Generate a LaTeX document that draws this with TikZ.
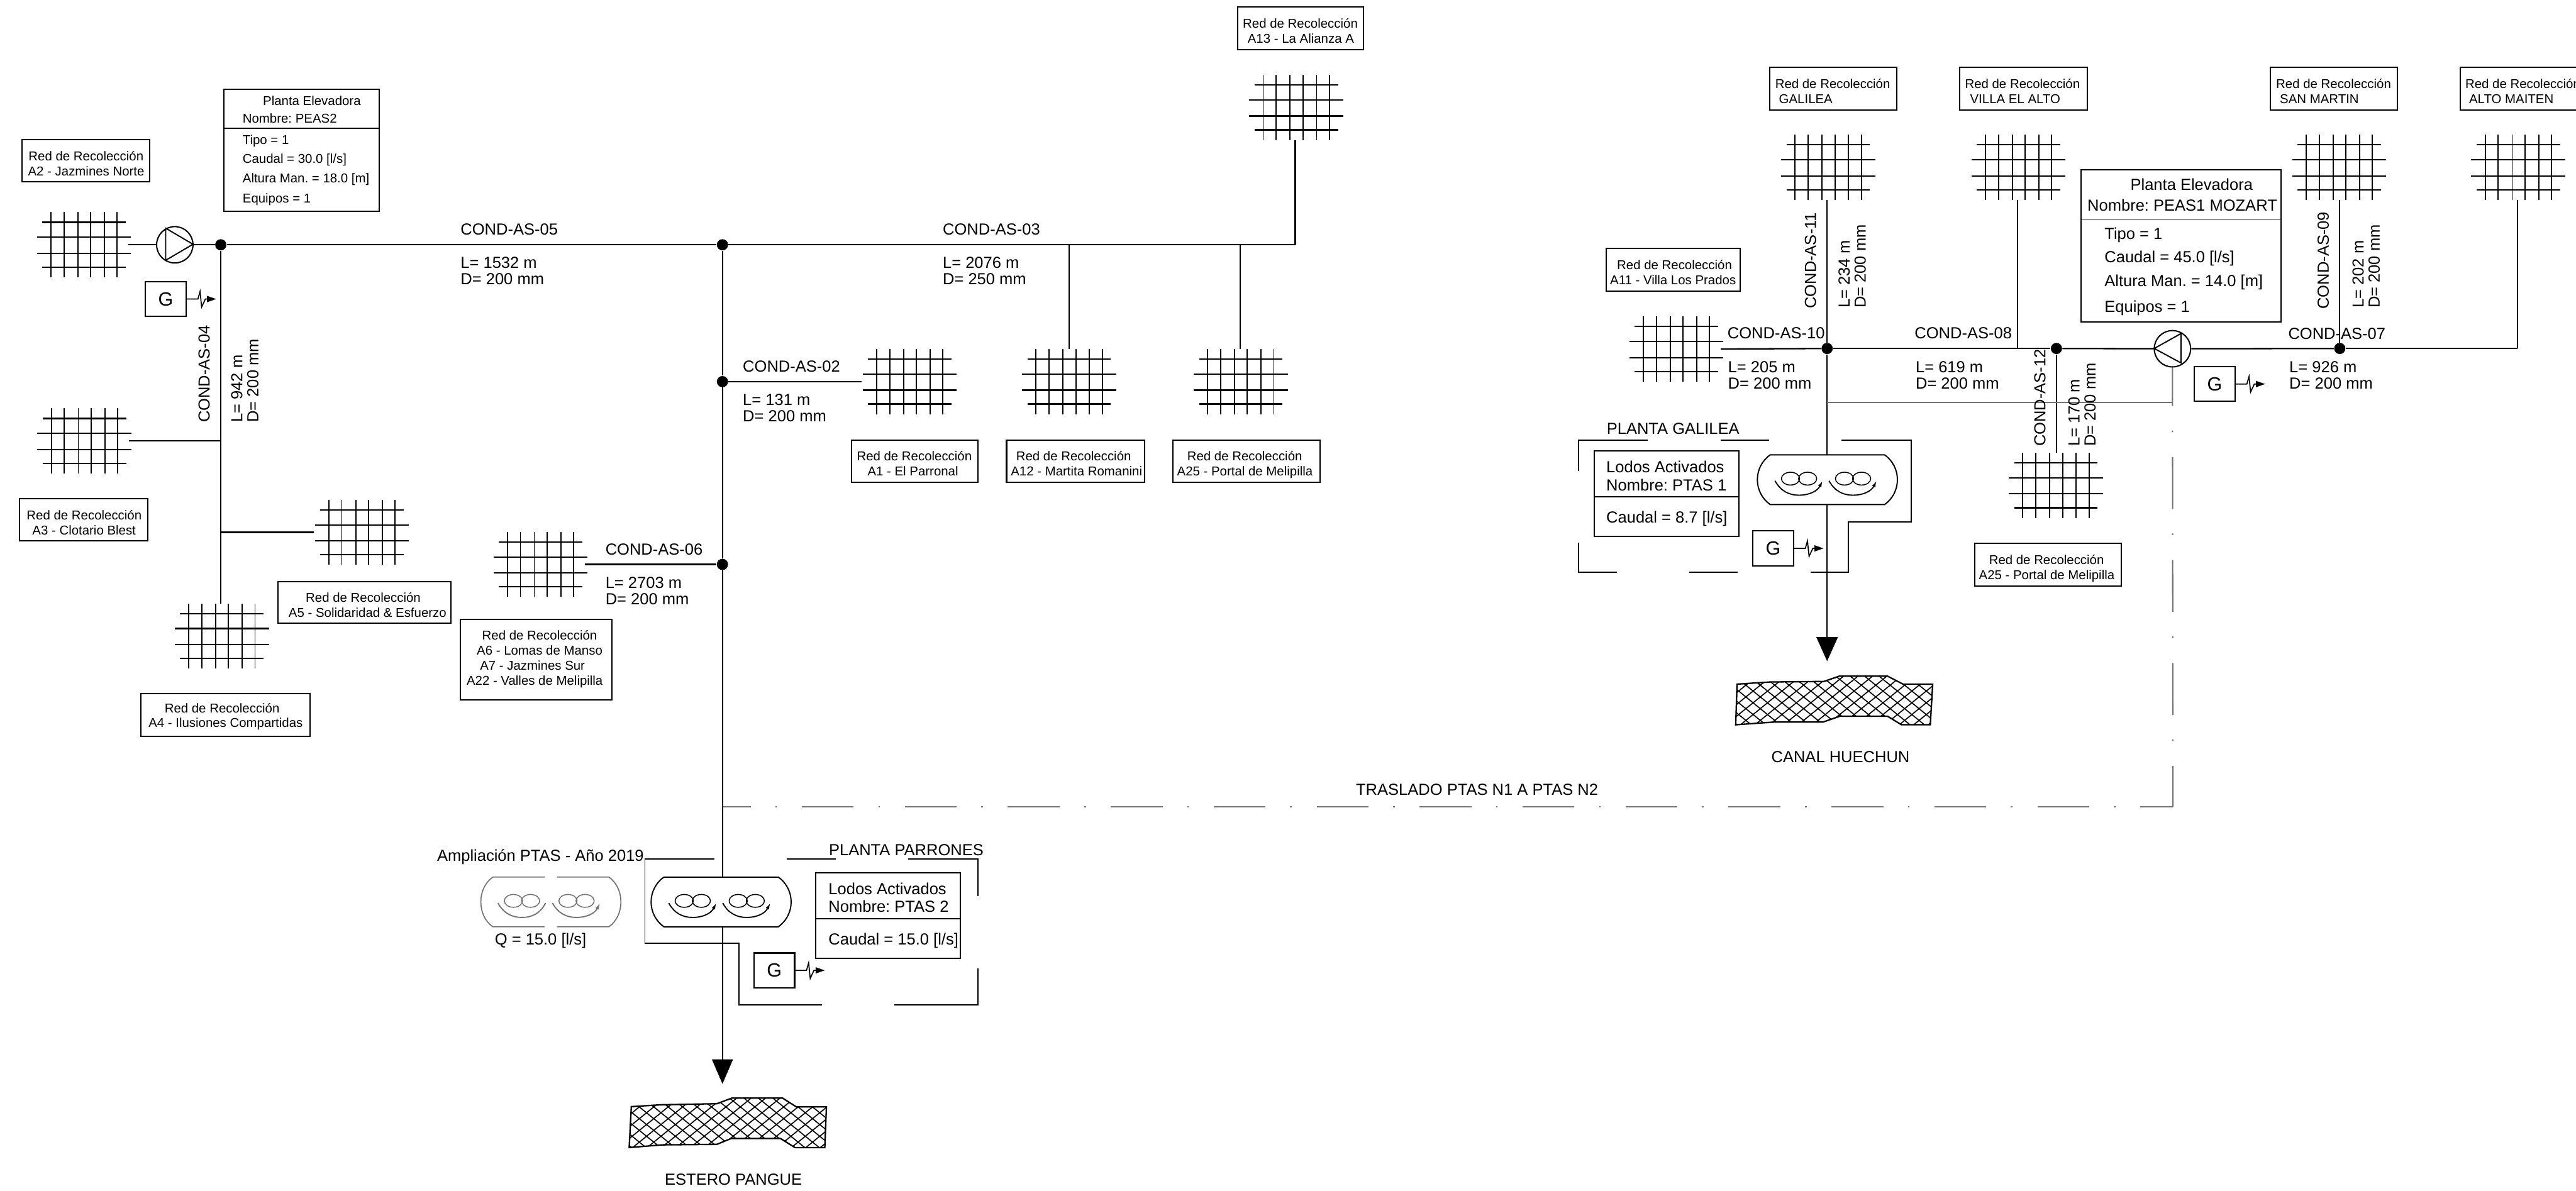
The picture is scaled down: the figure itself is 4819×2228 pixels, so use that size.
\documentclass[tikz,border=0pt]{standalone}
\usepackage{fontspec}
\setmainfont{Liberation Sans}
\usetikzlibrary{arrows.meta}
\frenchspacing
\newdimen\pxu \pxu=0.01cm
\newcommand\smallf{\fontsize{6.83pt}{7.97pt}\selectfont}
\newcommand\bigf{\fontsize{8.54pt}{8.54pt}\selectfont}
\tikzset{
  wire/.style={line width=0.027cm,draw=black},
  vwire/.style={line width=0.025cm,draw=black},
  thinbox/.style={line width=0.023cm,draw=black},
  graywire/.style={line width=0.024cm,draw=black!55},
  hatch/.style={line width=0.02cm,draw=black},
  tbox/.style={draw=black,line width=0.024cm,inner sep=0pt,outer sep=0pt,rectangle},
  dotnode/.style={circle,fill=black,draw=none,minimum size=0.21cm,inner sep=0pt},
  pumpnode/.style={circle,draw=black,line width=0.024cm,minimum size=0.68cm,inner sep=0pt},
  gbox/.style={rectangle,draw=black,line width=0.024cm,minimum width=0.76cm,minimum height=0.65cm,inner sep=0pt,font=\fontsize{10.2pt}{10.2pt}\selectfont},
  lab/.style={anchor=base west,inner sep=0pt,font=\bigf},
  ld/.style={anchor=west,inner sep=0pt,align=left,font=\bigf},
  vlab/.style={rotate=90,anchor=west,inner sep=0pt,align=left,font=\bigf},
  tipst/.style={-{Latex[length=0.12cm,width=0.07cm]}},
  redgrid/.pic={
    \foreach \a in {-62,-37.5,-11.5,12.5,38,62}{\draw[line width=0.022cm] (\a,-61) -- (\a,61);}
    \foreach \a in {-42,42}{\draw[line width=0.026cm] (-78,\a) -- (78,\a);}
    \foreach \a in {-14,16}{\draw[line width=0.026cm] (-88,\a) -- (88,\a);}
    \coordinate (-n) at (0,-61);
    \coordinate (-s) at (0,61);
    \coordinate (-e) at (83,0);
    \coordinate (-w) at (-90,0);
  },
  sigpic/.pic={
    \draw[line width=0.02cm] (0,0) -- (21,0) -- (25,-14) -- (28,15) -- (35,0) -- (38,0);
    \fill[black] (38,-6) -- (55,0) -- (38,6) -- cycle;
  },
  reactorbody/.pic={
    \draw[thinbox] (-107,-46.5) -- (107,-46.5) .. controls (122,-36) and (131,-18.5) .. (131,0)
      .. controls (131,18.5) and (122,36) .. (107,46.5) -- (-107,46.5)
      .. controls (-122,36) and (-131,18.5) .. (-131,0) .. controls (-131,-18.5) and (-122,-36) .. (-107,-46.5) -- cycle;
    \aero{-53}{-2}{tipst,}\aero{48}{-2}{tipst,}
    \coordinate (-n) at (0,-46.5);
    \coordinate (-s) at (0,46.5);
  },
  reactorlight/.pic={
    \draw[graywire,line width=0.02cm] (-11.5,-46.5) -- (-108.5,-46.5) .. controls (-123.5,-36) and (-131,-18.5) .. (-131,0)
      .. controls (-131,18.5) and (-123.5,36) .. (-108.5,46.5) -- (-11.5,46.5);
    \draw[graywire,line width=0.02cm] (11.5,-46.5) -- (108.5,-46.5) .. controls (123.5,-36) and (131,-18.5) .. (131,0)
      .. controls (131,18.5) and (123.5,36) .. (108.5,46.5) -- (11.5,46.5);
    \begin{scope}[black!55]
    \aero{-54}{-2}{}\aero{48}{-2}{tipst,}
    \end{scope}
  },
}
\newcommand\aero[3]{%
  \draw[line width=0.018cm] ({#1-16},#2) ellipse [x radius=17,y radius=12];
  \draw[line width=0.018cm] ({#1+16},#2) ellipse [x radius=17,y radius=12];
  \draw[#3 line width=0.022cm] ({#1-45},{#2+4}) .. controls ({#1-34},{#2+24}) and ({#1-18},{#2+31}) .. ({#1},{#2+31}) .. controls ({#1+18},{#2+31}) and ({#1+34},{#2+24}) .. ({#1+44},{#2+4});
}
% optional: font; name; x1 y1 x2 y2; first baseline offset; lines
\newcommand\rbox[8][\smallf]{%
  \pgfmathsetlengthmacro\bxw{(#5-#3)*\pxu}%
  \pgfmathsetlengthmacro\bxh{(#6-#4)*\pxu}%
  \node[tbox] (#2) at ({(#3+#5)/2},{(#4+#6)/2}) {\begin{minipage}[c][\bxh][t]{\bxw}#1\rule{0pt}{#7\pxu}#8\end{minipage}};%
}
\newcommand\hs[1]{\hspace*{#1\pxu}}
\newcommand\river[3]{%
  \begin{scope}
    \clip #3 -- cycle;
    \foreach \k in {0,...,26}{
      \draw[hatch] ({#1+\k*27},#2) -- ++(150,122);
      \draw[hatch] ({#1+\k*27},#2) -- ++(-150,122);
    }
  \end{scope}
  \draw[wire] #3 -- cycle;
}
\begin{document}
\begin{tikzpicture}[x=0.01cm,y=-0.01cm]
\useasboundingbox (0,0) rectangle (4819,2228);
\fill[white] (0,0) rectangle (4819,2228);
\clip (0,0) rectangle (4819,2228);

% collection grids
\pic (a2) at (157,458) {redgrid};
\pic (a3) at (158,825) {redgrid};
\pic (a5) at (677,996) {redgrid};
\pic (a4) at (415,1190) {redgrid};
\pic (a6) at (1011,1056) {redgrid};
\pic (a1) at (1702,714) {redgrid};
\pic (a12) at (2000,714) {redgrid};
\pic (a25) at (2321,714) {redgrid};
\pic (a13) at (2425,201) {redgrid};
\pic (a11) at (3136,653) {redgrid};
\pic (gal) at (3420,313) {redgrid};
\pic (vil) at (3776,313) {redgrid};
\pic (san) at (4376,313) {redgrid};
\pic (alt) at (4711,313) {redgrid};
\pic (a25b) at (3846,908) {redgrid};

% text boxes
\rbox{ba2}{41}{261}{280}{340}{39.5}{\hs{12.5}Red de Recolección\\\hs{11.5}A2 - Jazmines Norte}
\rbox{ba3}{37}{933}{277}{1012}{39.5}{\hs{13}Red de Recolección\\\hs{23.5}A3 - Clotario Blest}
\rbox{ba5}{520}{1088}{844}{1166}{38.5}{\hs{52}Red de Recolección\\\hs{20}A5 - Solidaridad \& Esfuerzo}
\rbox{ba4}{263}{1298}{580}{1378}{35}{\hs{45}Red de Recolección\\\hs{15}A4 - Ilusiones Compartidas}
\rbox{ba6}{861}{1159}{1145}{1310}{38.5}{\hs{41}Red de Recolección\\\hs{31}A6 - Lomas de Manso\\\hs{37}A7 - Jazmines Sur\\\hs{12}A22 - Valles de Melipilla}
\rbox{ba1}{1593}{823}{1830}{902}{38.5}{\hs{10}Red de Recolección\\\hs{30}A1 - El Parronal}
\rbox{ba12}{1883}{823}{2141}{902}{38.5}{\hs{18}Red de Recolección\\\hs{8}A12 - Martita Romanini}
\rbox{ba25}{2194}{823}{2469}{902}{38.5}{\hs{27}Red de Recolección\\\hs{8}A25 - Portal de Melipilla}
\rbox{ba13}{2315}{13}{2551}{93}{39.5}{\hs{10}Red de Recolección\\\hs{19}A13 - La Alianza A}
\rbox{ba11}{3005}{465}{3255}{545}{39.5}{\hs{20}Red de Recolección\\\hs{7}A11 - Villa Los Prados}
\rbox{bgal}{3310.5}{126}{3548}{206}{39.5}{\hs{10.5}Red de Recolección\\\hs{17.5}GALILEA}
\rbox{bvil}{3666}{126}{3904.5}{206}{39.5}{\hs{10}Red de Recolección\\\hs{19.5}VILLA EL ALTO}
\rbox{bsan}{4247}{126}{4485}{206}{39.5}{\hs{11}Red de Recolección\\\hs{18}SAN MARTIN}
\rbox{balt}{4602}{126}{4840}{206}{39.5}{\hs{10}Red de Recolección\\\hs{17}ALTO MAITEN}
\rbox{ba25b}{3694}{1017}{3968}{1097}{39.5}{\hs{27}Red de Recolección\\\hs{8}A25 - Portal de Melipilla}

% lift station and plant data boxes
\rbox{peas2}{419}{167}{709}{395}{29.5}{\hs{73}Planta Elevadora\\[5\pxu]\hs{35}Nombre: PEAS2\\[12\pxu]\hs{35}Tipo = 1\\[8\pxu]\hs{35}Caudal = 30.0 [l/s]\\[8\pxu]\hs{35}Altura Man. = 18.0 [m]\\[10\pxu]\hs{35}Equipos = 1}
\draw[thinbox] (peas2.west |- 0,240) -- (peas2.east |- 0,240);
\rbox[\bigf]{peas1}{3893}{318}{4267}{602}{37.7}{\hs{92.5}Planta Elevadora\\[9\pxu]\hs{12}Nombre: PEAS1 MOZART\\[23\pxu]\hs{44}Tipo = 1\\[13\pxu]\hs{44}Caudal = 45.0 [l/s]\\[15\pxu]\hs{44}Altura Man. = 14.0 [m]\\[18\pxu]\hs{44}Equipos = 1}
\draw[thinbox] (peas1.west |- 0,410) -- (peas1.east |- 0,410);
\rbox[\bigf]{ptas2}{1526}{1633}{1797}{1792.5}{40.7}{\hs{24}Lodos Activados\\[3\pxu]\hs{24}Nombre: PTAS 2\\[31.5\pxu]\hs{24}Caudal = 15.0 [l/s]}
\draw[thinbox] (ptas2.west |- 0,1719) -- (ptas2.east |- 0,1719);
\rbox[\bigf]{ptas1}{2982}{843.5}{3253}{1003}{40.2}{\hs{23}Lodos Activados\\[4\pxu]\hs{23}Nombre: PTAS 1\\[30\pxu]\hs{23}Caudal = 8.7 [l/s]}
\draw[thinbox] (ptas1.west |- 0,929) -- (ptas1.east |- 0,929);

% junctions and pumps
\node[dotnode] (d1) at (413,458) {};
\node[dotnode] (d2) at (1351.5,458) {};
\node[dotnode] (d3) at (1351.5,714) {};
\node[dotnode] (d4) at (1351.5,1056) {};
\node[dotnode] (d5) at (3418,652) {};
\node[dotnode] (d6) at (3847,652) {};
\node[dotnode] (d7) at (4377,652) {};
\node[pumpnode] (p2) at (327,458) {};
\draw[thinbox] (310,427) -- (361,457) -- (310,487) -- cycle;
\node[pumpnode] (p1) at (4064,652.5) {};
\draw[thinbox] (4080,624) -- (4030,652) -- (4080,679) -- cycle;

% generators
\node[gbox] (g1) at (310,559.5) {G\hspace{0.1cm}};
\pic at (g1.east) {sigpic};
\node[gbox] (g2) at (1448.5,1815.5) {G\hspace{0.1cm}};
\pic at (g2.east) {sigpic};
\node[gbox] (g3) at (3317,1026) {G\hspace{0.1cm}};
\pic at (g3.east) {sigpic};
\node[gbox] (g4) at (4143,718.5) {G\hspace{0.1cm}};
\pic at (g4.east) {sigpic};

% treatment plants
\pic (r2) at (1349,1687.5) {reactorbody};
\pic (rl) at (1030.5,1687.5) {reactorlight};
\pic (r1) at (3418.5,897.5) {reactorbody};

% plant outlines
\draw[thinbox] (1336,1607.5) -- (1206.5,1607.5) -- (1206.5,1765) -- (1382,1765) -- (1382,1880) -- (1538,1880);
\draw[thinbox] (1472,1607.5) -- (1564,1607.5);
\draw[thinbox] (1699,1607.5) -- (1829,1607.5) -- (1829,1677);
\draw[thinbox] (1829,1812) -- (1829,1880) -- (1673,1880);
\draw[thinbox] (2953,881) -- (2953,823) -- (3083,823);
\draw[thinbox] (3219,823) -- (3310,823);
\draw[thinbox] (3445,823) -- (3575,823) -- (3575,976) -- (3458,976) -- (3458,1071) -- (3387,1071);
\draw[thinbox] (3251,1071) -- (3160,1071);
\draw[thinbox] (3025,1071) -- (2953,1071) -- (2953,1015);

% pipes: left system
\draw[wire] (a2-e) -- (p2);
\draw[wire] (p2) -- (d1);
\draw[wire] (d1) -- (d2);
\coordinate (c13) at (2423,458);
\draw[wire] (d2) -- (c13);
\draw[vwire] (c13) -- (c13 |- a13-s);
\draw[vwire] (a12-n) -- (a12-n |- d2);
\draw[vwire] (2320,653) -- (2320,458);
\draw[vwire] (d1) -- (d1 |- a4-n);
\draw[wire] (a3-e) -- (d1 |- a3-e);
\draw[wire] (a5-w) -- (d1 |- a5-w);
\draw[wire] (d3) -- (a1-w);
\draw[wire] (a6-e) -- (d4);
\draw[vwire] (d2) -- (d3);
\draw[vwire] (d3) -- (d4);
\draw[vwire] (d4) -- (r2-n -| d4);
\coordinate (tip2) at (1351.5,2028);
\draw[vwire,-{Triangle[length=0.46cm,width=0.39cm]}] (r2-s -| d4) -- (tip2);

% pipes: right system
\draw[wire] (a11-e) -- (d5);
\draw[wire] (d5) -- (d6);
\draw[wire] (d6) -- (p1);
\draw[wire] (p1) -- (d7);
\coordinate (cal) at (4710,652);
\draw[wire] (d7) -- (cal);
\draw[vwire] (cal) -- (cal |- alt-s);
\draw[vwire] (gal-s -| d5) -- (d5);
\draw[vwire] (3774,374) -- (3774,652);
\draw[vwire] (san-s -| d7) -- (d7);
\draw[vwire] (d6) -- (d6 |- a25b-n);
\draw[vwire] (d5) -- (r1-n -| d5);
\coordinate (tip1) at (3418,1237);
\draw[vwire,-{Triangle[length=0.45cm,width=0.40cm]}] (r1-s -| d5) -- (tip1);

% transfer line
\coordinate (gcorner) at (4064.5,752.6);
\coordinate (tr) at (4065,1510);
\draw[graywire] (d5 |- gcorner) -- (gcorner);
\draw[graywire,dash pattern=on 0.97cm off 0.465cm on 0.03cm off 0.46cm,dash phase=0.36cm] (tr) -- (d2 |- tr);
\draw[graywire,dash pattern=on 0.97cm off 0.465cm on 0.03cm off 0.46cm,dash phase=0.20cm] (tr) -- (p1.south);

% rivers
\river{1007}{2049}{(1181,2070.5) -- (1236,2067) -- (1341,2065) -- (1369,2054.5) -- (1464,2054.5) -- (1490,2071) -- (1546,2071) -- (1543,2147) -- (1487,2147) -- (1460,2130) -- (1368,2130) -- (1341,2141) -- (1239,2142) -- (1177,2147)}
\river{3077}{1260}{(3249.5,1280) -- (3311,1276) -- (3412,1275) -- (3441,1265) -- (3531,1265) -- (3560,1280) -- (3615.5,1280) -- (3611,1356) -- (3557,1356) -- (3531,1340) -- (3442,1340) -- (3410,1351) -- (3318,1351) -- (3247,1356)}

% pipe labels
\node[lab] (t05) at (861,440) {COND-AS-05};
\node[ld] (l05) at (861,507) {L= 1532 m\\D= 200 mm};
\node[lab] (t03) at (1763,440) {COND-AS-03};
\node[ld] (l03) at (1763,507) {L= 2076 m\\D= 250 mm};
\node[lab] (t02) at (1389,696) {COND-AS-02};
\node[ld] (l02) at (1389,763.5) {L= 131 m\\D= 200 mm};
\node[lab] (t06) at (1132,1038) {COND-AS-06};
\node[ld] (l06) at (1132,1105.5) {L= 2703 m\\D= 200 mm};
\node[lab] (t10) at (3231,634) {COND-AS-10};
\node[ld] (l10) at (3232,702) {L= 205 m\\D= 200 mm};
\node[lab] (t08) at (3581,634) {COND-AS-08};
\node[ld] (l08) at (3583,702) {L= 619 m\\D= 200 mm};
\node[lab] (t07) at (4280,635) {COND-AS-07};
\node[ld] (l07) at (4282,702) {L= 926 m\\D= 200 mm};
\node[vlab] (t04) at (382,791) {COND-AS-04};
\node[vlab] (l04) at (458,791) {L= 942 m\\D= 200 mm};
\node[vlab] (t11) at (3387,578) {COND-AS-11};
\node[vlab] (l11) at (3465,577) {L= 234 m\\D= 200 mm};
\node[vlab] (t12) at (3816,836) {COND-AS-12};
\node[vlab] (l12) at (3895,836) {L= 170 m\\D= 200 mm};
\node[vlab] (t09) at (4346,579) {COND-AS-09};
\node[vlab] (l09) at (4426.5,577) {L= 202 m\\D= 200 mm};

% other labels
\node[lab] (tamp) at (817,1610.7) {Ampliación PTAS - Año 2019};
\node[lab] (tq) at (925,1767.7) {Q = 15.0 [l/s]};
\node[lab] (tpar) at (1550,1600.7) {PLANTA PARRONES};
\node[lab] (tgal) at (3005,812.7) {PLANTA GALILEA};
\node[lab] (ttra) at (2536,1488) {TRASLADO PTAS N1 A PTAS N2};
\node[lab] (tcan) at (3313,1426.7) {CANAL HUECHUN};
\node[lab] (test) at (1243,2217) {ESTERO PANGUE};
\end{tikzpicture}
\end{document}
